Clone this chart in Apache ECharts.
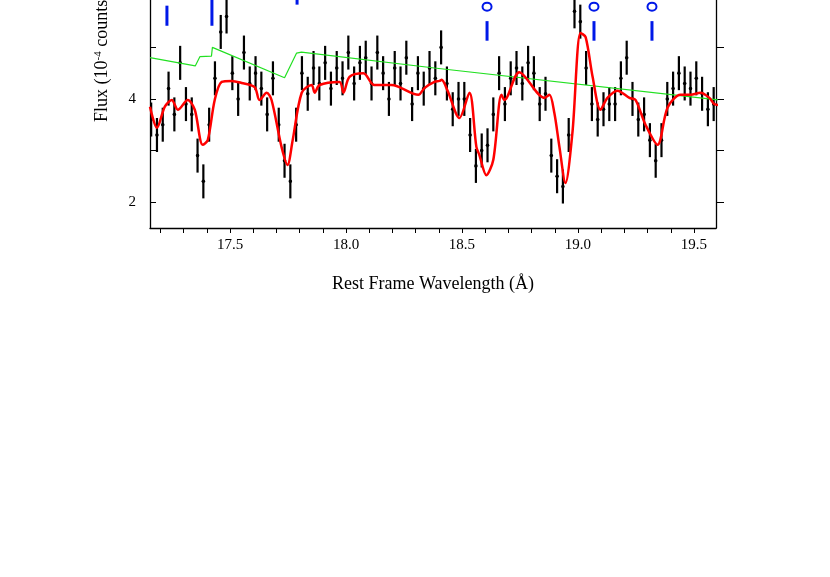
<!DOCTYPE html>
<html><head><meta charset="utf-8">
<script src="https://cdn.jsdelivr.net/npm/echarts@6/dist/echarts.min.js"></script>
<style>html,body{margin:0;padding:0;background:#fff}#c{width:830px;height:577px}</style>
</head><body><div id="c"></div>
<script>
const X0 = 17.16, DX = 0.025;
const flux = [3.6,3.3,3.5,4.2,3.7,4.7,3.9,3.7,2.9,2.4,3.5,4.4,5.3,5.6,4.5,4.0,4.9,4.3,4.5,4.2,
3.7,4.4,3.5,2.8,2.4,3.5,4.5,4.1,4.6,4.3,4.7,4.2,4.6,4.4,4.9,4.3,4.7,4.8,4.3,4.9,
4.5,4.0,4.6,4.3,4.8,3.9,4.5,4.2,4.6,4.4,5.0,4.3,3.8,4.0,4.0,3.3,2.7,3.0,3.1,3.7,
4.5,3.9,4.4,4.6,4.3,4.7,4.5,3.9,4.1,2.9,2.5,2.3,3.3,5.7,5.5,4.6,3.9,3.6,3.8,3.9,
3.9,4.4,4.8,4.0,3.6,3.7,3.2,2.8,3.2,4.0,4.2,4.5,4.3,4.2,4.4,4.1,3.8,3.9];
const ERR = 0.33;
const modelX = [17.155,17.185,17.219,17.249,17.275,17.318,17.348,17.382,17.404,17.434,17.464,17.507,17.55,17.606,17.627,17.658,17.679,17.722,17.748,17.77,17.809,17.852,17.865,17.886,17.972,17.989,18.015,18.075,18.122,18.196,18.312,18.338,18.403,18.381,18.412,18.437,18.489,18.532,18.562,18.575,18.605,18.635,18.67,18.683,18.747,18.855,18.877,18.898,18.92,18.946,18.976,19.011,19.033,19.063,19.097,19.127,19.17,19.222,19.248,19.291,19.343,19.386,19.442,19.485,19.528,19.567,19.588,19.622];
const modelY = [3.85,3.44,3.85,3.98,3.79,3.98,3.79,3.11,3.2,3.98,4.33,4.35,4.31,4.23,3.98,4.12,3.98,3.07,2.72,3.2,4.12,4.27,4.12,4.27,4.33,4.12,4.43,4.5,4.27,4.27,4.08,4.21,4.35,4.33,4.37,4.17,3.63,4.12,3.07,2.91,2.52,2.82,4.08,3.98,4.52,4.02,4.08,3.73,3.07,2.37,3.34,5.28,5.2,4.43,3.79,4.02,4.16,4.02,3.98,3.5,3.11,3.83,4.08,4.08,4.12,4.02,3.9,3.88];
const contX = [17.155,17.35,17.37,17.42,17.424,17.735,17.787,17.808,18.381,19.603];
const contY = [4.8,4.64,4.82,4.83,5.0,4.41,4.89,4.91,4.6,3.98];
const lineX = [17.228,17.422,17.789,18.608,19.069,19.319];
const lineLo = [5.42,5.42,5.83,5.13,5.13,5.13];
const lineHi = [5.81,5.95,6.3,5.51,5.51,5.51];
const lineTag = ['','','','O','O','O'];
const xLabels = [17.5,18.0,18.5,19.0,19.5];
const yLabels = [2,4];

const pts = flux.map((v,i)=>[+(X0+i*DX).toFixed(3), v]);
const modelData = modelX.map((x,i)=>[x,modelY[i]]).sort((a,b)=>a[0]-b[0]);
const contData = contX.map((x,i)=>[x,contY[i]]);
const xMinor=[]; for(let t=172;t<=195;t++) xMinor.push(t/10);
const font='Liberation Serif';
const chart = echarts.init(document.getElementById('c'));
chart.setOption({
  animation:false,
  grid:{left:150,right:114,top:0,bottom:349},
  xAxis:{type:'value',min:17.155,max:19.595,
    axisLine:{show:true,lineStyle:{color:'#000',width:1.3}},
    axisTick:{show:true,inside:false,length:5,customValues:xMinor,lineStyle:{color:'#000'}},
    axisLabel:{customValues:xLabels,formatter:v=>v.toFixed(1),color:'#000',fontFamily:font,fontSize:15,margin:10},
    splitLine:{show:false},
    name:'Rest Frame Wavelength (Å)',nameLocation:'middle',nameGap:47,
    nameTextStyle:{color:'#000',fontFamily:font,fontSize:18}},
  yAxis:[{type:'value',min:1.495,max:5.92,
    axisLine:{show:true,lineStyle:{color:'#000',width:1.3}},
    axisTick:{show:true,inside:true,length:6,customValues:[2,3,4,5],lineStyle:{color:'#000'}},
    axisLabel:{customValues:yLabels,color:'#000',fontFamily:font,fontSize:15,margin:14},
    splitLine:{show:false}},
   {type:'value',min:1.495,max:5.92,position:'right',
    axisLine:{show:true,lineStyle:{color:'#000',width:1.3}},
    axisTick:{show:true,inside:false,length:8,customValues:[2,3,4,5],lineStyle:{color:'#000'}},
    axisLabel:{show:false},splitLine:{show:false}}],
  graphic:[{type:'text',x:93,y:122,rotation:Math.PI/2,
    style:{text:'Flux (10{s|-4} counts s{s|-1} Å{s|-1})',fill:'#000',font:'18px "Liberation Serif"',
      rich:{s:{fontSize:11,verticalAlign:'top',fontFamily:font,padding:[0,0,8,0]}}}}],
  series:[
    {type:'custom',clip:true,renderItem:(p,api)=>{
      const x=api.value(0),y=api.value(1);
      const a=api.coord([x,y-ERR]),b=api.coord([x,y+ERR]),c=api.coord([x,y]);
      return {type:'group',children:[
        {type:'line',shape:{x1:a[0],y1:a[1],x2:b[0],y2:b[1]},style:{stroke:'#000',lineWidth:2.2}},
        {type:'circle',shape:{cx:c[0],cy:c[1],r:1.8},style:{fill:'#000'}}]};
    },data:pts,z:2},
    {type:'line',data:contData,showSymbol:false,lineStyle:{color:'#22e022',width:1.2},z:3},
    {type:'line',data:modelData,showSymbol:false,smooth:0.3,lineStyle:{color:'#ff0000',width:2.5},z:4},
    {type:'custom',clip:false,renderItem:(p,api)=>{
      const i=p.dataIndex;
      const a=api.coord([lineX[i],lineLo[i]]),b=api.coord([lineX[i],lineHi[i]]);
      const ch=[{type:'line',shape:{x1:a[0],y1:a[1],x2:b[0],y2:b[1]},style:{stroke:'#0018e8',lineWidth:3}}];
      if(lineTag[i]){const o=api.coord([lineX[i],5.79]);
        ch.push({type:'ellipse',shape:{cx:o[0],cy:o[1],rx:4.5,ry:4},style:{fill:'none',stroke:'#0018e8',lineWidth:2}});}
      return {type:'group',children:ch};
    },data:lineX.map((x,i)=>[x,lineLo[i]]),z:5}
  ]
});
</script></body></html>
